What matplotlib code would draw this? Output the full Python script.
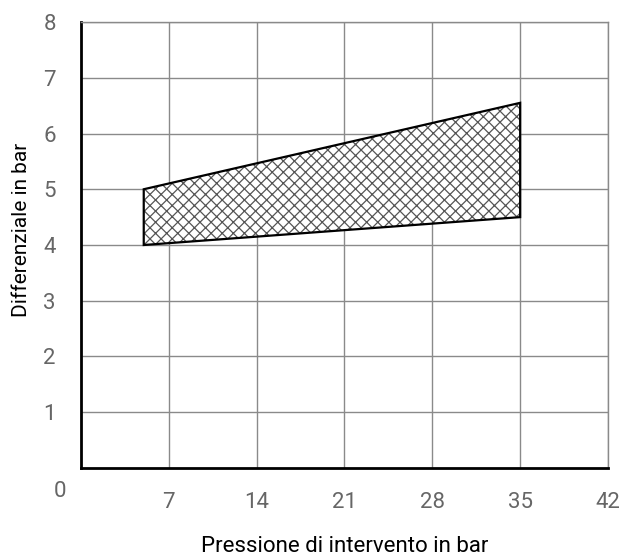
import matplotlib
matplotlib.use("Agg")
import matplotlib.pyplot as plt

plt.rcParams['font.family'] = ['Roboto', 'DejaVu Sans']
plt.rcParams['hatch.linewidth'] = 0.9

# campo di regolazione: pressione di intervento vs differenziale
pressione = [5, 35]
diff_max = [5.0, 6.55]
diff_min = [4.0, 4.5]

x_ticks = [7, 14, 21, 28, 35, 42]
y_ticks = [1, 2, 3, 4, 5, 6, 7, 8]

fig = plt.figure(figsize=(6.25, 5.6), dpi=100)
ax = fig.add_axes([0.1296, 0.1643, 0.8432, 0.7964])

# area tratteggiata
poly_x = pressione + pressione[::-1]
poly_y = diff_max + diff_min[::-1]
ax.fill(poly_x, poly_y, facecolor='white', edgecolor='#555555', hatch='xxx', linewidth=0, zorder=3)
ax.fill(poly_x, poly_y, facecolor='none', edgecolor='black', linewidth=1.6, zorder=4)

ax.set_xlim(0, 42)
ax.set_ylim(0, 8)
ax.set_xticks(x_ticks)
ax.set_yticks(y_ticks)
ax.grid(True, color='#8a8a8a', linewidth=1.0, zorder=1)
ax.tick_params(length=0, labelsize=16, colors='#666666')
ax.tick_params(axis='x', pad=17)
ax.tick_params(axis='y', pad=18)

for side in ['top', 'right']:
    ax.spines[side].set_color('#8a8a8a')
    ax.spines[side].set_linewidth(1.0)
for side in ['left', 'bottom']:
    ax.spines[side].set_color('black')
    ax.spines[side].set_linewidth(2.0)

ax.text(-1.7, -0.42, '0', fontsize=16, color='#666666', ha='center', va='center')

ax.set_xlabel('Pressione di intervento in bar', fontsize=16, labelpad=17)
ax.set_ylabel('Differenziale in bar', fontsize=15)
ax.yaxis.set_label_coords(-0.095, 0.534)

fig.savefig('out.png', dpi=100)
